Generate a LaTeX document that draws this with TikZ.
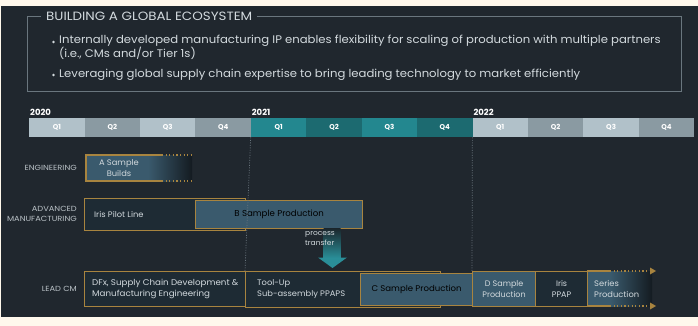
\documentclass[tikz,border=0pt]{standalone}
\usepackage{fontspec}
\setmainfont{Poppins}
\usetikzlibrary{arrows.meta}

\definecolor{cream}{HTML}{FFF8EC}
\definecolor{bg}{HTML}{20272E}
\definecolor{gold}{HTML}{A8843F}
\definecolor{slate}{HTML}{3A5A6D}
\definecolor{deep}{HTML}{1E2B34}
\definecolor{fade}{HTML}{141B21}
\definecolor{qlight}{HTML}{B1C1C9}
\definecolor{qdark}{HTML}{8A9AA2}
\definecolor{tlight}{HTML}{23878F}
\definecolor{tdark}{HTML}{1C6A70}
\definecolor{ink}{HTML}{D3DADE}
\definecolor{labelink}{HTML}{B9C1C6}
\definecolor{rulegray}{HTML}{6A767E}
\definecolor{arrowtop}{HTML}{1B272D}
\definecolor{arrowteal}{HTML}{2A8E98}

\newcommand{\wide}[1]{\addfontfeature{FakeStretch=#1}}

\tikzset{
  qcell/.style={minimum width=55.42pt, minimum height=19pt, inner sep=0pt,
    anchor=north west, text=white, font=\fontsize{7}{8}\selectfont\bfseries},
  yearlbl/.style={anchor=south west, inner xsep=1pt, inner ysep=2pt, text=white,
    font=\fontsize{8.5}{10}\selectfont\bfseries},
  rowlbl/.style={anchor=east, align=right, text=labelink, inner sep=0pt,
    font=\fontsize{7.4}{9.6}\selectfont\wide{1.12}},
  goldbox/.style={draw=gold, line width=1.2pt, inner sep=0pt, anchor=north west},
  boxtxt/.style={text=ink, inner sep=0pt, font=\fontsize{8}{10.5}\selectfont\wide{1.04}},
  bullettxt/.style={anchor=west, inner sep=0pt, text=ink, align=left,
    font=\fontsize{11}{13}\selectfont\wide{1.06}},
  golddots/.style={draw=gold, line width=1.2pt, dash pattern=on 1.2pt off 2.4pt},
  gridline/.style={draw=rulegray, line width=0.7pt, dash pattern=on 1pt off 1.5pt},
}

\begin{document}
\begin{tikzpicture}[x=1pt,y=-1pt]
\useasboundingbox (0,0) rectangle (698,326);
\fill[cream] (0,0) rectangle (698,326);
\fill[bg] (1,6) rectangle (698,317);

% headline frame and bullets
\draw[rulegray, line width=0.8pt] (27,16) rectangle (681,91);
\node[fill=bg, anchor=west, inner xsep=5pt, inner ysep=1pt, text=ink,
  font=\fontsize{12}{14}\selectfont\wide{1.12}] (title) at (41,16) {BUILDING A GLOBAL ECOSYSTEM};
\node[bullettxt] (pt1) at (59,47.5)
  {Internally developed manufacturing IP enables flexibility for scaling of production with multiple partners\\(i.e., CMs and/or Tier 1s)};
\node[bullettxt] (pt2) at (59,74.5)
  {Leveraging global supply chain expertise to bring leading technology to market efficiently};
\fill[ink] (53.5,42) circle (1.4pt);
\fill[ink] (53.5,75) circle (1.4pt);

% quarter bar
\foreach \i/\c/\q in {0/qlight/Q1,1/qdark/Q2,2/qlight/Q3,3/qdark/Q4,
                      4/tlight/Q1,5/tdark/Q2,6/tlight/Q3,7/tdark/Q4,
                      8/qlight/Q1,9/qdark/Q2,10/qlight/Q3,11/qdark/Q4}
  \node[qcell, fill=\c] (q\i) at ({29+\i*55.42},118) {\q};
\node[yearlbl] (y20) at (q0.north west) {2020};
\node[yearlbl] (y21) at (q4.north west) {2021};
\node[yearlbl] (y22) at (q8.north west) {2022};

% row titles
\node[rowlbl] (rEng) at (77,168) {ENGINEERING};
\node[rowlbl] (rAdv) at (77,214) {ADVANCED\\MANUFACTURING};
\node[rowlbl] (rCM) at (77,289) {LEAD CM};

% engineering: fading A-sample bar
\fill[slate] (86,155) rectangle (148,181);
\shade[left color=slate, right color=fade] (148,155) rectangle (192,181);
\draw[gold, line width=1.2pt] (162,155) -- (86,155) -- (86,181) -- (162,181);
\draw[golddots] (162,155) -- (192,155);
\draw[golddots] (162,181) -- (192,181);
\node[boxtxt, align=center] (asamp) at (119,168) {A Sample\\Builds};

% advanced manufacturing
\node[goldbox, fill=deep, minimum width=161pt, minimum height=32pt] (iris) at (84,198) {};
\node[boxtxt, anchor=west] (irislbl) at (94,214) {Iris Pilot Line};
\node[goldbox, fill=slate, minimum width=167pt, minimum height=28pt] (bsamp) at (195,200)
  {\fontsize{8.6}{10}\selectfont B Sample Production};

% lead CM row
\node[goldbox, fill=deep, minimum width=161pt, minimum height=35pt] (dfx) at (84,271) {};
\node[boxtxt, anchor=west, align=left, font=\fontsize{8.3}{10.5}\selectfont\wide{1.05}] (dfxlbl) at (92,289)
  {DFx, Supply Chain Development \&\\Manufacturing Engineering};
\node[goldbox, fill=deep, minimum width=195pt, minimum height=35.5pt] (tool) at (245,271) {};
\node[boxtxt, anchor=west, align=left] (toollbl) at (257,289)
  {Tool-Up\\Sub-assembly PPAPS};
\node[goldbox, fill=slate, minimum width=112pt, minimum height=32pt] (csamp) at (360,273)
  {\fontsize{8.3}{10}\selectfont\wide{1.03} C Sample Production};
\node[goldbox, fill=slate, minimum width=63pt, minimum height=35pt, align=center,
  text=ink, font=\fontsize{8}{10.5}\selectfont] (dsamp) at (472,271) {D Sample\\Production};
\node[goldbox, fill=deep, minimum width=52pt, minimum height=35pt, align=center,
  text=ink, font=\fontsize{8}{10.5}\selectfont] (ppap) at (535,271) {Iris\\PPAP};
\fill[slate] (587.6,271) rectangle (610,306);
\shade[left color=slate, right color=fade] (610,271) rectangle (652,306);
\draw[gold, line width=1.2pt] (587,271) -- (610,271);
\draw[gold, line width=1.2pt] (587,306) -- (610,306);
\draw[golddots] (610,271) -- (650,271);
\draw[golddots] (610,306) -- (650,306);
\fill[gold] (650,267.5) -- (656,271) -- (650,274.5) -- cycle;
\fill[gold] (650,302.5) -- (656,306) -- (650,309.5) -- cycle;
\node[boxtxt, anchor=west, align=left] (series) at (594,289) {Series\\Production};

% year boundaries
\draw[gridline] (q4.south west) -- (tool.north west);
\draw[gridline] (q8.south west) -- (dsamp.north west);

% process transfer arrow from B samples down to the lead CM row
\shade[top color=arrowtop, bottom color=arrowteal] (323.5,228.5) rectangle (340.5,258);
\fill[arrowteal] (318,257.5) -- (347,257.5) -- (332.5,268) -- cycle;
\node[boxtxt, anchor=north west, align=left, font=\fontsize{7.2}{9.8}\selectfont\wide{1.04}]
  (ptrans) at (305,231.5) {process\\transfer};
\end{tikzpicture}
\end{document}
